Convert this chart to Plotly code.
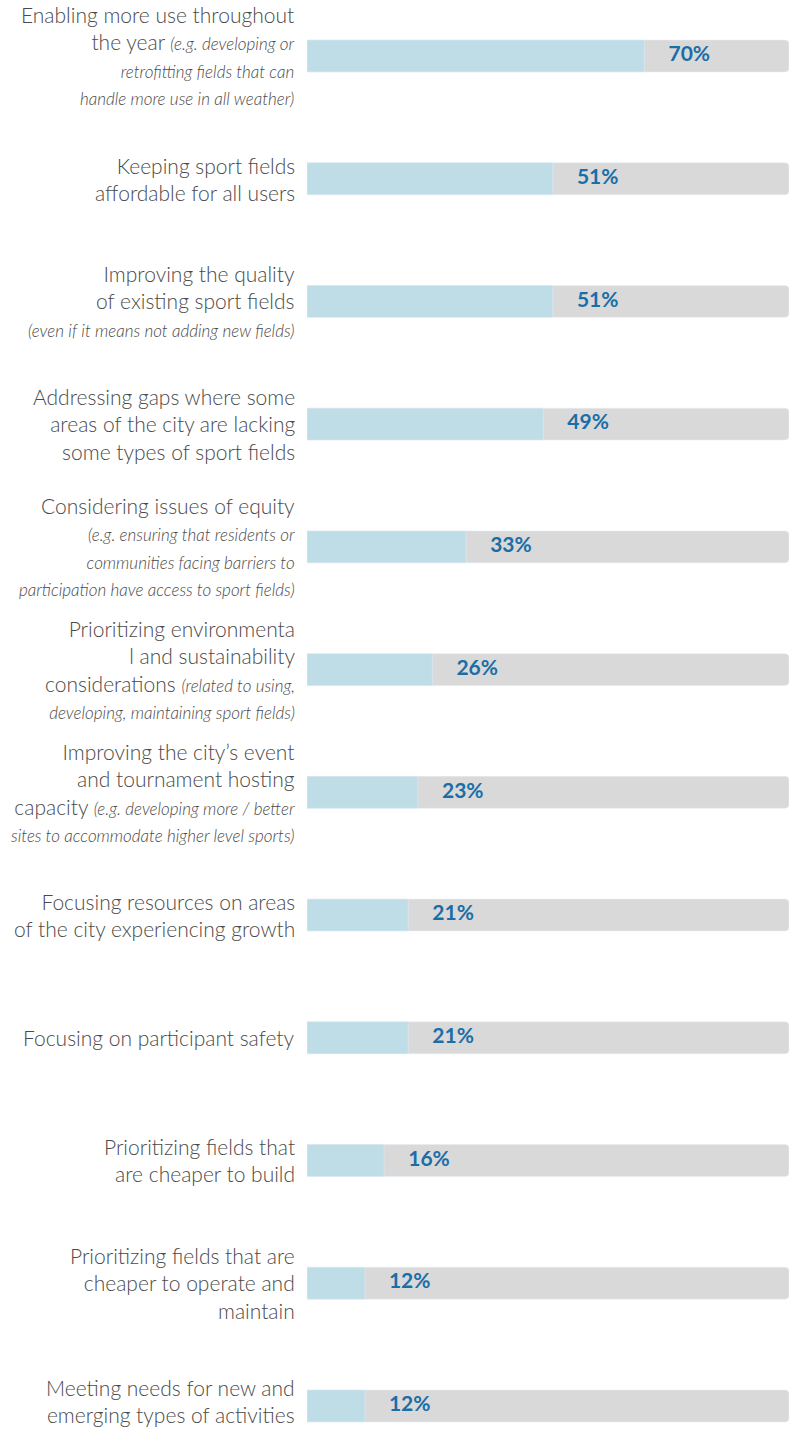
import plotly.graph_objects as go

# Survey results: share of respondents ranking each priority
labels = [
    "Enabling more use throughout<br>the year <span style='font-size:17px'><i>(e.g. developing or</i></span><br>"
    "<span style='font-size:17px'><i>retrofitting fields that can</i></span><br>"
    "<span style='font-size:17px'><i>handle more use in all weather)</i></span>",
    "Keeping sport fields<br>affordable for all users",
    "Improving the quality<br>of existing sport fields<br>"
    "<span style='font-size:17px'><i>(even if it means not adding new fields)</i></span>",
    "Addressing gaps where some<br>areas of the city are lacking<br>some types of sport fields",
    "Considering issues of equity<br>"
    "<span style='font-size:17px'><i>(e.g. ensuring that residents or</i></span><br>"
    "<span style='font-size:17px'><i>communities facing barriers to</i></span><br>"
    "<span style='font-size:17px'><i>participation have access to sport fields)</i></span>",
    "Prioritizing environmenta<br>l and sustainability<br>considerations "
    "<span style='font-size:17px'><i>(related to using,</i></span><br>"
    "<span style='font-size:17px'><i>developing, maintaining sport fields)</i></span>",
    "Improving the city\u2019s event<br>and tournament hosting<br>capacity "
    "<span style='font-size:17px'><i>(e.g. developing more / better</i></span><br>"
    "<span style='font-size:17px'><i>sites to accommodate higher level sports)</i></span>",
    "Focusing resources on areas<br>of the city experiencing growth",
    "Focusing on participant safety",
    "Prioritizing fields that<br>are cheaper to build",
    "Prioritizing fields that are<br>cheaper to operate and<br>maintain",
    "Meeting needs for new and<br>emerging types of activities",
]
values = [70, 51, 51, 49, 33, 26, 23, 21, 21, 16, 12, 12]

rows = list(range(len(values)))
full = [100] * len(values)

fig = go.Figure()

# gray track (right end rounded, left end is hidden under the fill)
fig.add_bar(y=rows, x=full, orientation="h", width=0.26,
            marker=dict(color="#d9d9d9", cornerradius=4), hoverinfo="skip")

# blue fill
fig.add_bar(y=rows, x=values, orientation="h", width=0.26,
            marker=dict(color="#bedde7"), hoverinfo="skip")

# percentage labels
fig.add_scatter(y=rows, x=[v + 5 for v in values], mode="text",
                text=[f"<b>{v}%</b>" for v in values], textposition="middle right",
                textfont=dict(family="Lato", size=21, color="#1a6ea8", weight=900),
                hoverinfo="skip")

# category labels as annotations so tall ones near the edges are not dropped
for r, lab in zip(rows, labels):
    fig.add_annotation(x=0, xref="paper", y=r, yref="y", text=lab,
                       xanchor="right", yanchor="middle", align="right", xshift=-10,
                       yshift=5 if r == rows[-1] else 0,  # keep the last one inside the page
                       showarrow=False,
                       font=dict(family="Lato Light, Lato", size=21, color="#4a4a4a", weight=300))

fig.update_layout(
    width=791, height=1430,
    margin=dict(l=307, r=2, t=0, b=0),
    barmode="overlay",
    showlegend=False,
    hovermode=False,
    plot_bgcolor="white", paper_bgcolor="white",
    xaxis=dict(range=[0, 100], visible=False, fixedrange=True),
    yaxis=dict(range=[11.196, -0.456], visible=False, fixedrange=True),
)

# drop the default body margin so the figure fills the window exactly
fig.write_html("out.html", config={"displayModeBar": False},
               post_script="document.body.style.margin = '0';")
